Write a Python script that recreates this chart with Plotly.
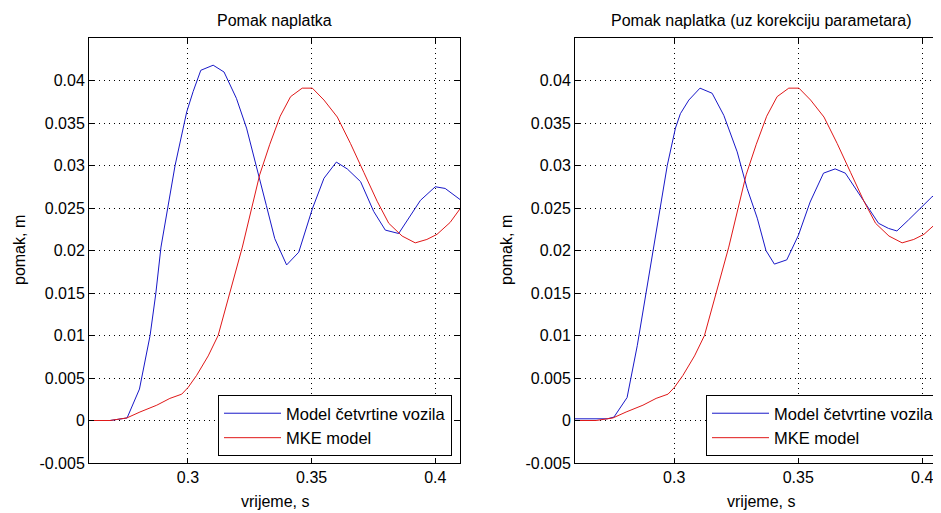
import plotly.graph_objects as go

# page body has an 8px margin; lay out in screen pixels and shift by it
OFF = 8
SCREEN_W, SCREEN_H = 941, 513
W, H = SCREEN_W - OFF, SCREEN_H - OFF

# ---- data ----
t_blue_a = [0.2600, 0.2685, 0.2754, 0.2804, 0.2847, 0.2870, 0.2891, 0.2917, 0.2948, 0.2995,
            0.3021, 0.3052, 0.3102, 0.3146, 0.3196, 0.3237, 0.3277, 0.3317, 0.3351, 0.3399,
            0.3448, 0.3503, 0.3550, 0.3600, 0.3644, 0.3698, 0.3751, 0.3798, 0.3852, 0.3892,
            0.3940, 0.4000, 0.4040, 0.4100]
v_blue_a = [0.0000, 0.0000, 0.0003, 0.0037, 0.0100, 0.0149, 0.0204, 0.0249, 0.0300, 0.0363,
            0.0387, 0.0412, 0.0418, 0.0410, 0.0379, 0.0344, 0.0300, 0.0253, 0.0214, 0.0183,
            0.0198, 0.0249, 0.0285, 0.0304, 0.0296, 0.0281, 0.0246, 0.0224, 0.0220, 0.0238,
            0.0259, 0.0275, 0.0273, 0.0260]

t_red = [0.2600, 0.2685, 0.2753, 0.2806, 0.2874, 0.2927, 0.2975, 0.3001, 0.3035, 0.3082,
         0.3122, 0.3169, 0.3196, 0.3220, 0.3257, 0.3290, 0.3331, 0.3373, 0.3415, 0.3462,
         0.3503, 0.3550, 0.3604, 0.3657, 0.3711, 0.3765, 0.3812, 0.3866, 0.3919, 0.3966,
         0.4007, 0.4060, 0.4100]
v_red = [0.0000, 0.0000, 0.0003, 0.0010, 0.0018, 0.0026, 0.0031, 0.0039, 0.0053, 0.0076,
         0.0100, 0.0149, 0.0176, 0.0204, 0.0249, 0.0289, 0.0325, 0.0358, 0.0381, 0.0391,
         0.0391, 0.0377, 0.0357, 0.0326, 0.0292, 0.0258, 0.0232, 0.0217, 0.0209, 0.0213,
         0.0219, 0.0233, 0.0249]

t_blue_b = [0.2600, 0.2730, 0.2757, 0.2810, 0.2851, 0.2884, 0.2916, 0.2942, 0.2972, 0.3005,
            0.3025, 0.3059, 0.3104, 0.3153, 0.3200, 0.3254, 0.3294, 0.3335, 0.3370, 0.3404,
            0.3454, 0.3501, 0.3548, 0.3602, 0.3649, 0.3690, 0.3730, 0.3783, 0.3824, 0.3864,
            0.3898, 0.3945, 0.3999, 0.4039, 0.4080]
v_blue_b = [0.0002, 0.0002, 0.0004, 0.0027, 0.0088, 0.0147, 0.0202, 0.0249, 0.0300, 0.0344,
            0.0361, 0.0377, 0.0391, 0.0385, 0.0359, 0.0316, 0.0273, 0.0238, 0.0200, 0.0184,
            0.0189, 0.0218, 0.0257, 0.0291, 0.0296, 0.0291, 0.0273, 0.0249, 0.0232, 0.0226,
            0.0223, 0.0236, 0.0251, 0.0263, 0.0271]

y_ticks = [-0.005, 0, 0.005, 0.01, 0.015, 0.02, 0.025, 0.03, 0.035, 0.04]
y_labels = ["-0.005", "0", "0.005", "0.01", "0.015", "0.02", "0.025", "0.03", "0.035", "0.04"]
x_ticks = [0.3, 0.35, 0.4]
x_labels = ["0.3", "0.35", "0.4"]

names = ["Model četvrtine vozila", "MKE model"]
titles = ["Pomak naplatka", "Pomak naplatka (uz korekciju parametara)"]
x_title = "vrijeme, s"
y_title = "pomak, m"

BLUE = "#1818c8"
RED = "#e01818"
FONT = "Liberation Sans, Arial, sans-serif"

fig = go.Figure()
fig.add_trace(go.Scatter(x=t_blue_a, y=v_blue_a, mode="lines", name=names[0],
                         line=dict(color=BLUE, width=1), xaxis="x", yaxis="y", legend="legend"))
fig.add_trace(go.Scatter(x=t_red, y=v_red, mode="lines", name=names[1],
                         line=dict(color=RED, width=1), xaxis="x", yaxis="y", legend="legend"))
fig.add_trace(go.Scatter(x=t_blue_b, y=v_blue_b, mode="lines", name=names[0],
                         line=dict(color=BLUE, width=1), xaxis="x2", yaxis="y2", legend="legend2"))
fig.add_trace(go.Scatter(x=t_red, y=v_red, mode="lines", name=names[1],
                         line=dict(color=RED, width=1), xaxis="x2", yaxis="y2", legend="legend2"))

# screen-pixel geometry of the reference
top_s, bot_s = 38, 463
top_px, bot_px = top_s - OFF, bot_s - OFF
plot_h = bot_px - top_px

def px_x(p):  # screen x -> paper fraction
    return (p - OFF) / W

def px_y(p):  # screen y -> paper fraction
    return (bot_px - (p - OFF)) / plot_h

axis_common = dict(showgrid=True, gridcolor="#000000", griddash="1px,4px", gridwidth=1,
                   showline=True, linecolor="#000000", linewidth=1,
                   ticks="inside", ticklen=5, tickcolor="#000000",
                   tickfont=dict(family=FONT, size=16, color="#000000"),
                   zeroline=False, fixedrange=True)

legend_common = dict(bgcolor="white", bordercolor="#000000", borderwidth=1,
                     font=dict(family=FONT, size=16.5, color="#000000"), itemwidth=57,
                     tracegroupgap=0, yanchor="bottom", y=px_y(456))

L0, L1 = 89, 460
R0 = 575
fig.update_layout(
    width=W, height=H,
    margin=dict(l=0, r=0, t=top_px, b=H - bot_px, autoexpand=False),
    paper_bgcolor="white", plot_bgcolor="white",
    font=dict(family=FONT, size=16, color="#000000"),
    xaxis=dict(domain=[px_x(L0), px_x(L1)], range=[0.26, 0.41], tickvals=x_ticks,
               ticktext=x_labels, mirror="ticks", anchor="y", **axis_common),
    yaxis=dict(domain=[0, 1], range=[-0.005, 0.045], tickvals=y_ticks, ticktext=y_labels,
               mirror="ticks", anchor="x", **axis_common),
    xaxis2=dict(domain=[px_x(R0), 1.0], range=[0.26, 0.26 + (SCREEN_W - R0) / 2480.0],
                tickvals=x_ticks, ticktext=x_labels, mirror="ticks", anchor="y2", **axis_common),
    yaxis2=dict(domain=[0, 1], range=[-0.005, 0.045], tickvals=y_ticks, ticktext=y_labels,
                mirror=False, anchor="x2", **axis_common),
    legend=dict(x=px_x(218), xanchor="left", **legend_common),
    legend2=dict(x=px_x(706), xanchor="left", **legend_common),
    showlegend=True,
)

ann = []
for cx, title in [((L0 + L1) / 2, titles[0]), (761, titles[1])]:
    ann.append(dict(text=title, x=px_x(cx), y=px_y(20), xref="paper", yref="paper",
                    xanchor="center", yanchor="middle", showarrow=False,
                    font=dict(family=FONT, size=16, color="#000000")))
    ann.append(dict(text=x_title, x=px_x(cx), y=px_y(501), xref="paper", yref="paper",
                    xanchor="center", yanchor="middle", showarrow=False,
                    font=dict(family=FONT, size=16, color="#000000")))
for cx in [20, 507]:
    ann.append(dict(text=y_title, x=px_x(cx), y=px_y(250), xref="paper", yref="paper",
                    xanchor="center", yanchor="middle", textangle=-90, showarrow=False,
                    font=dict(family=FONT, size=16, color="#000000")))
fig.update_layout(annotations=ann)

fig.write_html("out.html")
